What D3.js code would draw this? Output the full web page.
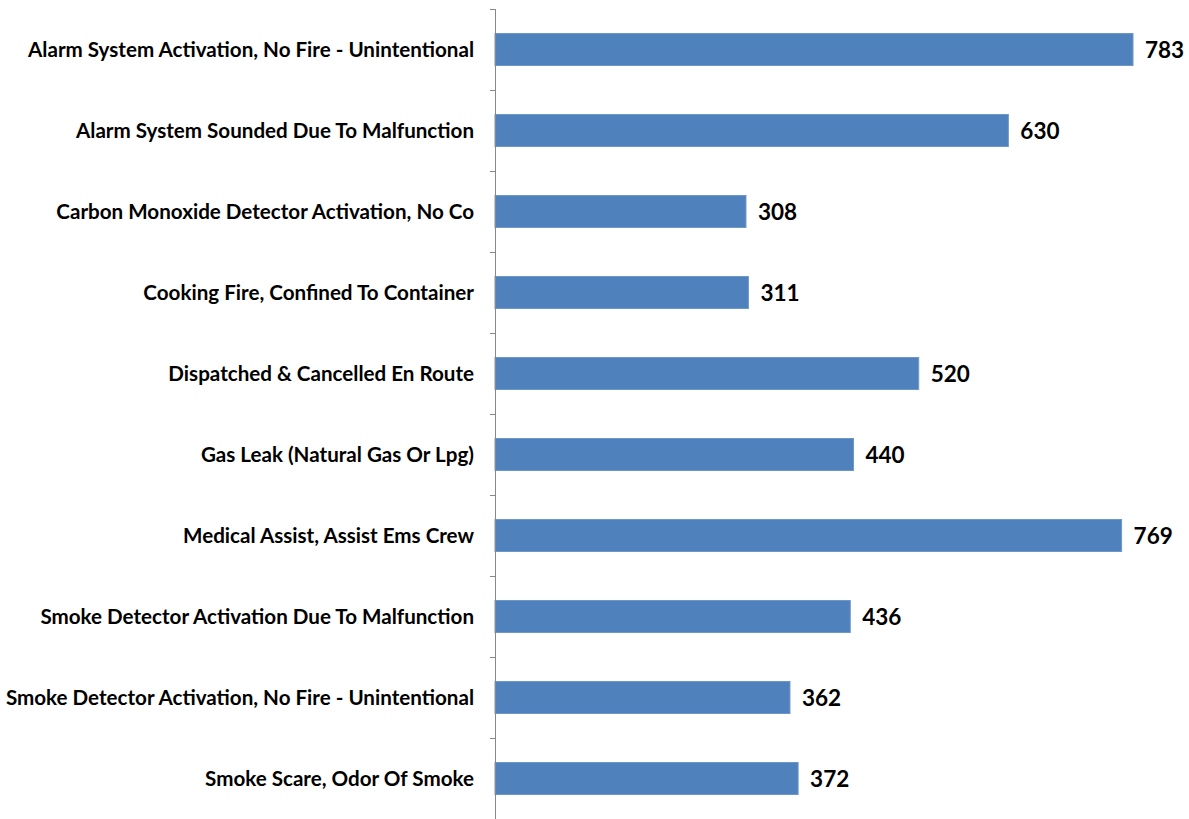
<!DOCTYPE html>
<html><head><meta charset="utf-8">
<script src="https://cdn.jsdelivr.net/npm/d3@7"></script>
<style>body{margin:0;background:#fff;} svg{display:block;}</style>
</head><body>
<svg id="chart" width="1189" height="819"></svg>
<script>
const categories = [
  "Alarm System Activation, No Fire - Unintentional",
  "Alarm System Sounded Due To Malfunction",
  "Carbon Monoxide Detector Activation, No Co",
  "Cooking Fire, Confined To Container",
  "Dispatched & Cancelled En Route",
  "Gas Leak (Natural Gas Or Lpg)",
  "Medical Assist, Assist Ems Crew",
  "Smoke Detector Activation Due To Malfunction",
  "Smoke Detector Activation, No Fire - Unintentional",
  "Smoke Scare, Odor Of Smoke"
];
const values = [783, 630, 308, 311, 520, 440, 769, 436, 362, 372];

const svg = d3.select("#chart");
const x0 = 495, yTop = 9, yBottom = 819;
const x = d3.scaleLinear().domain([0, 783]).range([x0, 1133]);
const y = d3.scaleBand().domain(categories).range([yTop, yBottom]).paddingInner(0.605).paddingOuter(0.3025);
const yTicks = d3.scaleBand().domain(categories).range([yTop, yBottom]);

// bars
svg.selectAll("rect.bar").data(values).join("rect")
  .attr("class","bar")
  .attr("x", x(0))
  .attr("y", (d,i)=>y(categories[i]))
  .attr("width", d=>x(d)-x(0))
  .attr("height", y.bandwidth())
  .attr("fill", "#4F81BD")
  .attr("stroke", "#6f96c8").attr("stroke-width", 1);

// axis line and ticks
const g = svg.append("g");
g.append("line").attr("x1", x0+0.5).attr("x2", x0+0.5).attr("y1", yTop).attr("y2", yBottom).attr("stroke", "#888");
const tickPos = categories.map(c=>yTicks(c)).concat([yBottom]);
g.selectAll("line.tick").data(tickPos).join("line").attr("class","tick")
  .attr("x1", x0-5).attr("x2", x0).attr("y1", d=>Math.round(d)+0.5).attr("y2", d=>Math.round(d)+0.5)
  .attr("stroke", "#888");

// category labels
svg.selectAll("text.cat").data(categories).join("text").attr("class","cat")
  .attr("x", 474)
  .attr("y", d=>y(d)+y.bandwidth()/2)
  .attr("dy", "0.35em")
  .attr("text-anchor","end")
  .attr("font-family","Lato, 'Open Sans', sans-serif")
  .attr("font-weight","bold")
  .attr("font-size", 20.6)
  .attr("fill","#000")
  .text(d=>d);

// value labels
svg.selectAll("text.val").data(values).join("text").attr("class","val")
  .attr("x", d=>x(d)+12)
  .attr("y", (d,i)=>y(categories[i])+y.bandwidth()/2)
  .attr("dy", "0.38em")
  .attr("font-family","Lato, 'Open Sans', sans-serif")
  .attr("font-weight","bold")
  .attr("font-size", 22.5)
  .attr("fill","#000")
  .text(d=>d);
</script>
</body></html>
